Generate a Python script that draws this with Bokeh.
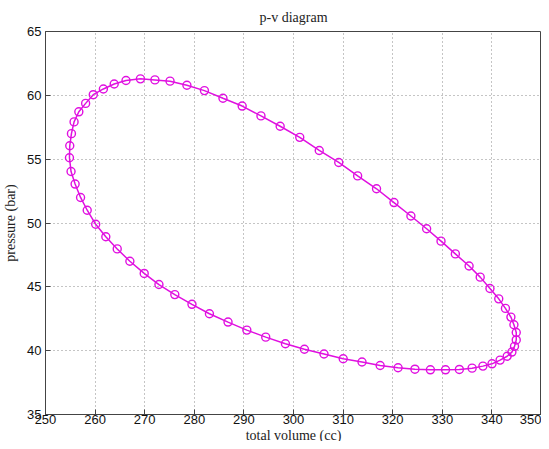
from bokeh.plotting import figure
from bokeh.embed import file_html
from bokeh.resources import INLINE
from bokeh.models import Range1d, FixedTicker, Column

volume = [269.14, 272.06, 275.11, 278.51, 282.04, 285.78, 289.65, 293.44, 297.31, 301.26,
          305.19, 309.12, 312.93, 316.74, 320.26, 323.67, 326.84, 329.74, 332.63, 335.40,
          337.64, 339.61, 341.38, 342.73, 343.83, 344.44, 344.91, 344.91, 344.56, 344.03,
          343.08, 341.65, 340.02, 338.19, 336.01, 333.44, 330.65, 327.60, 324.48, 321.08,
          317.47, 313.81, 310.02, 306.15, 302.20, 298.37, 294.40, 290.59, 286.80, 283.05,
          279.53, 276.07, 272.87, 269.90, 267.01, 264.46, 262.16, 260.12, 258.41, 257.07,
          255.97, 255.15, 254.83, 254.89, 255.23, 255.76, 256.72, 258.09, 259.63, 261.67,
          263.85, 266.23]
pressure = [61.29, 61.21, 61.11, 60.79, 60.37, 59.77, 59.16, 58.39, 57.58, 56.71,
            55.68, 54.74, 53.69, 52.68, 51.60, 50.55, 49.55, 48.58, 47.58, 46.63,
            45.76, 44.87, 44.06, 43.31, 42.63, 42.03, 41.42, 40.84, 40.34, 39.89,
            39.56, 39.26, 38.97, 38.79, 38.63, 38.53, 38.50, 38.50, 38.55, 38.66,
            38.84, 39.11, 39.37, 39.74, 40.11, 40.54, 41.06, 41.61, 42.24, 42.89,
            43.63, 44.39, 45.18, 46.05, 47.00, 47.97, 48.92, 49.90, 51.00, 52.00,
            53.05, 54.03, 55.11, 56.05, 57.00, 57.92, 58.71, 59.37, 60.05, 60.50,
            60.89, 61.16]
x_ticks = [250, 260, 270, 280, 290, 300, 310, 320, 330, 340, 350]
y_ticks = [35, 40, 45, 50, 55, 60, 65]

p = figure(width=549, height=445, output_backend="svg", toolbar_location=None,
           x_range=Range1d(250, 350), y_range=Range1d(35, 65),
           title="p-v diagram", min_border_left=38, min_border_right=0,
           min_border_top=0, min_border_bottom=0)
p.title.align = "center"
p.title.text_font = "Liberation Serif"
p.title.text_font_style = "normal"
p.title.text_font_size = "14px"
p.title.text_color = "#222222"
p.title.standoff = 14

p.outline_line_color = "#444444"
p.outline_line_width = 1
p.background_fill_color = "white"
p.border_fill_color = "white"

for ax, ticks in ((p.xaxis, x_ticks), (p.yaxis, y_ticks)):
    ax.ticker = FixedTicker(ticks=ticks)
    ax.major_tick_in = 5
    ax.major_tick_out = 0
    ax.minor_tick_in = 0
    ax.minor_tick_out = 0
    ax.axis_line_color = "#444444"
    ax.major_tick_line_color = "#444444"
    ax.major_label_text_font = "Liberation Sans"
    ax.major_label_text_font_size = "13px"
    ax.major_label_text_color = "#111111"
    ax.axis_label_text_font = "Liberation Serif"
    ax.axis_label_text_font_style = "normal"
    ax.axis_label_text_font_size = "14px"
    ax.axis_label_text_color = "#222222"

p.xaxis.axis_label = "total volume (cc)"
p.yaxis.axis_label = "pressure (bar)"
p.xaxis.major_label_standoff = 0
p.xaxis.axis_label_standoff = 1
p.yaxis.major_label_standoff = 4
p.yaxis.axis_label_standoff = 6

p.grid.grid_line_color = "#8a8a8a"
p.grid.grid_line_dash = "1 3"
p.grid.grid_line_width = 1

p.line(volume + volume[:1], pressure + pressure[:1], line_color="#e010e0", line_width=1.5)
p.scatter(volume, pressure, marker="circle", size=8, fill_color=None,
          line_color="#e010e0", line_width=1.4)

page = Column(children=[p],
              styles={"overflow": "hidden", "max-width": "541px", "max-height": "441px"})

open("out.html", "w").write(file_html(page, INLINE))
